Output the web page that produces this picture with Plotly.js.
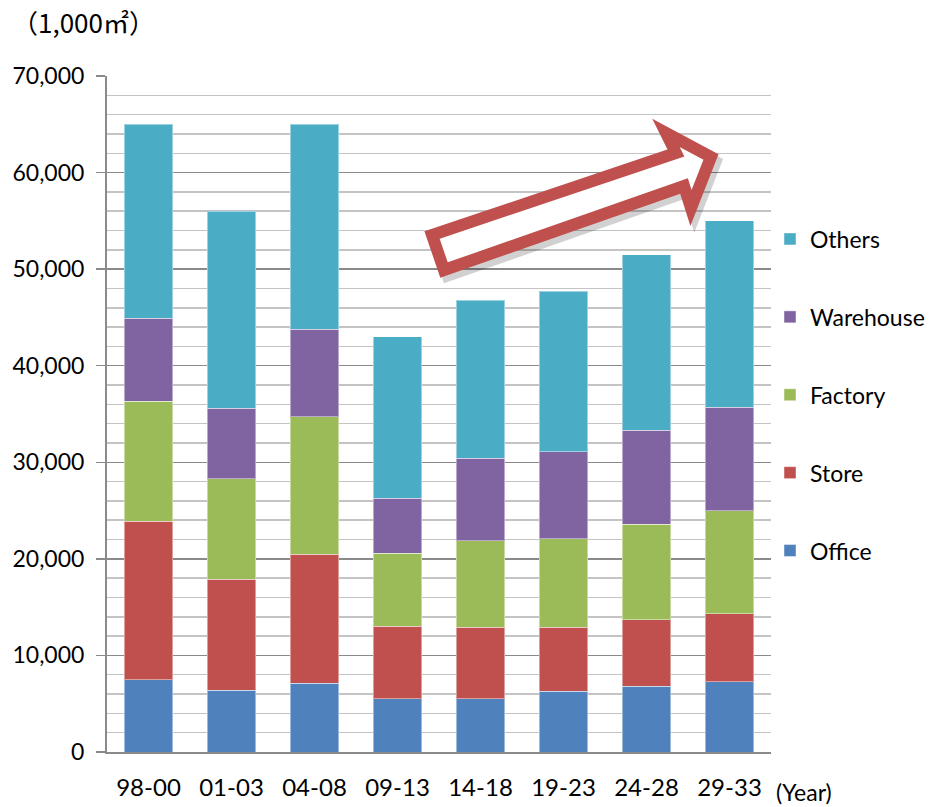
<!DOCTYPE html>
<html>
<head>
<meta charset="utf-8">
<script src="https://cdn.plot.ly/plotly-3.0.1.min.js"></script>
<style>html,body{margin:0;padding:0;background:#fff;}#chart{width:937px;height:807px;}</style>
</head>
<body>
<div id="chart"></div>
<script>
const categories = ["98-00","01-03","04-08","09-13","14-18","19-23","24-28","29-33"];
const office    = [7500, 6400, 7100, 5500, 5500, 6300, 6800, 7300];
const store     = [16400, 11500, 13400, 7500, 7400, 6600, 6900, 7000];
const factory   = [12400, 10400, 14200, 7600, 9000, 9200, 9900, 10700];
const warehouse = [8600, 7300, 9100, 5700, 8500, 9000, 9700, 10700];
const others    = [20100, 20400, 21200, 16700, 16400, 16600, 18200, 19300];
const yTickVals = [0,10000,20000,30000,40000,50000,60000,70000];
const yTickText = ["0","10,000","20,000","30,000","40,000","50,000","60,000","70,000"];

const seriesDefs = [
  {name:"Office", y:office, color:"#4f81bd", rank:5},
  {name:"Store", y:store, color:"#c0504d", rank:4},
  {name:"Factory", y:factory, color:"#9bbb59", rank:3},
  {name:"Warehouse", y:warehouse, color:"#8064a2", rank:2},
  {name:"Others", y:others, color:"#4bacc6", rank:1}
];
const traces = seriesDefs.map(s => ({
  type:"bar", name:s.name, x:categories, y:s.y, legendgroup:s.name, legendrank:s.rank,
  marker:{color:s.color, line:{color:"rgba(255,255,255,0.45)", width:1}},
  hoverinfo:"skip"
}));

// plot area in pixels; paper spans from L to right edge of the page (margin.r = 0)
const W=937, H=807, L=107, R=771, T=76, B=752;
const PW = W - L;
function px(x){return (x-L)/PW;}
function py(y){return (B-y)/(B-T);}
function pathFrom(pts, dx, dy){
  return pts.map((p,i)=>(i?"L":"M")+px(p[0]+dx).toFixed(4)+","+py(p[1]+dy).toFixed(4)).join(" ")+" Z";
}
const arrowPts = [[444,270],[432,235],[676,153],[666,133],[711,157],[691,208],[684,186]];

const font = "Lato, 'Noto Sans', sans-serif";
const layout = {
  width:W, height:H,
  margin:{l:L, r:0, t:T, b:H-B, pad:0},
  paper_bgcolor:"#fff", plot_bgcolor:"#fff",
  barmode:"stack", bargap:0.42,
  showlegend:true,
  legend:{x:px(770), y:py(395), xanchor:"left", yanchor:"middle",
    traceorder:"grouped", tracegroupgap:45,
    font:{family:font, size:23, color:"#000"}, bgcolor:"rgba(0,0,0,0)"},
  xaxis:{type:"category", domain:[0, (R-L)/PW], showgrid:false, showline:true, linecolor:"#8a8a8a", linewidth:2,
    ticks:"", tickfont:{family:font, size:24, color:"#000"}, ticklabelstandoff:13, fixedrange:true},
  yaxis:{range:[0,70000], tickmode:"array", tickvals:yTickVals, ticktext:yTickText,
    showgrid:true, gridcolor:"#8a8a8a", gridwidth:1.5,
    minor:{dtick:2000, tick0:0, showgrid:true, gridcolor:"#c4c4c4", gridwidth:1.5, ticks:""},
    showline:true, linecolor:"#8a8a8a", linewidth:2,
    ticks:"outside", ticklen:9, tickcolor:"#8a8a8a", tickwidth:1.5,
    tickfont:{family:font, size:23, color:"#000"}, ticklabelstandoff:7,
    zeroline:false, fixedrange:true},
  shapes:[
    {type:"path", xref:"paper", yref:"paper", path:pathFrom(arrowPts,4,5),
      line:{color:"rgba(0,0,0,0.18)", width:13}, fillcolor:"rgba(0,0,0,0)", layer:"above"},
    {type:"path", xref:"paper", yref:"paper", path:pathFrom(arrowPts,0,0),
      line:{color:"#c0504d", width:12}, fillcolor:"#ffffff", layer:"above"}
  ],
  annotations:[
    {xref:"paper", yref:"paper", x:px(10), y:py(21), xanchor:"left", yanchor:"middle",
      text:"（1,000㎡）", showarrow:false, font:{family:"Noto Sans CJK JP", size:26, color:"#000"}},
    {xref:"paper", yref:"paper", x:px(774), y:py(792), xanchor:"left", yanchor:"middle",
      text:"(Year)", showarrow:false, font:{family:font, size:23, color:"#000"}}
  ]
};
Plotly.newPlot("chart", traces, layout, {displayModeBar:false, staticPlot:true});
</script>
</body>
</html>
